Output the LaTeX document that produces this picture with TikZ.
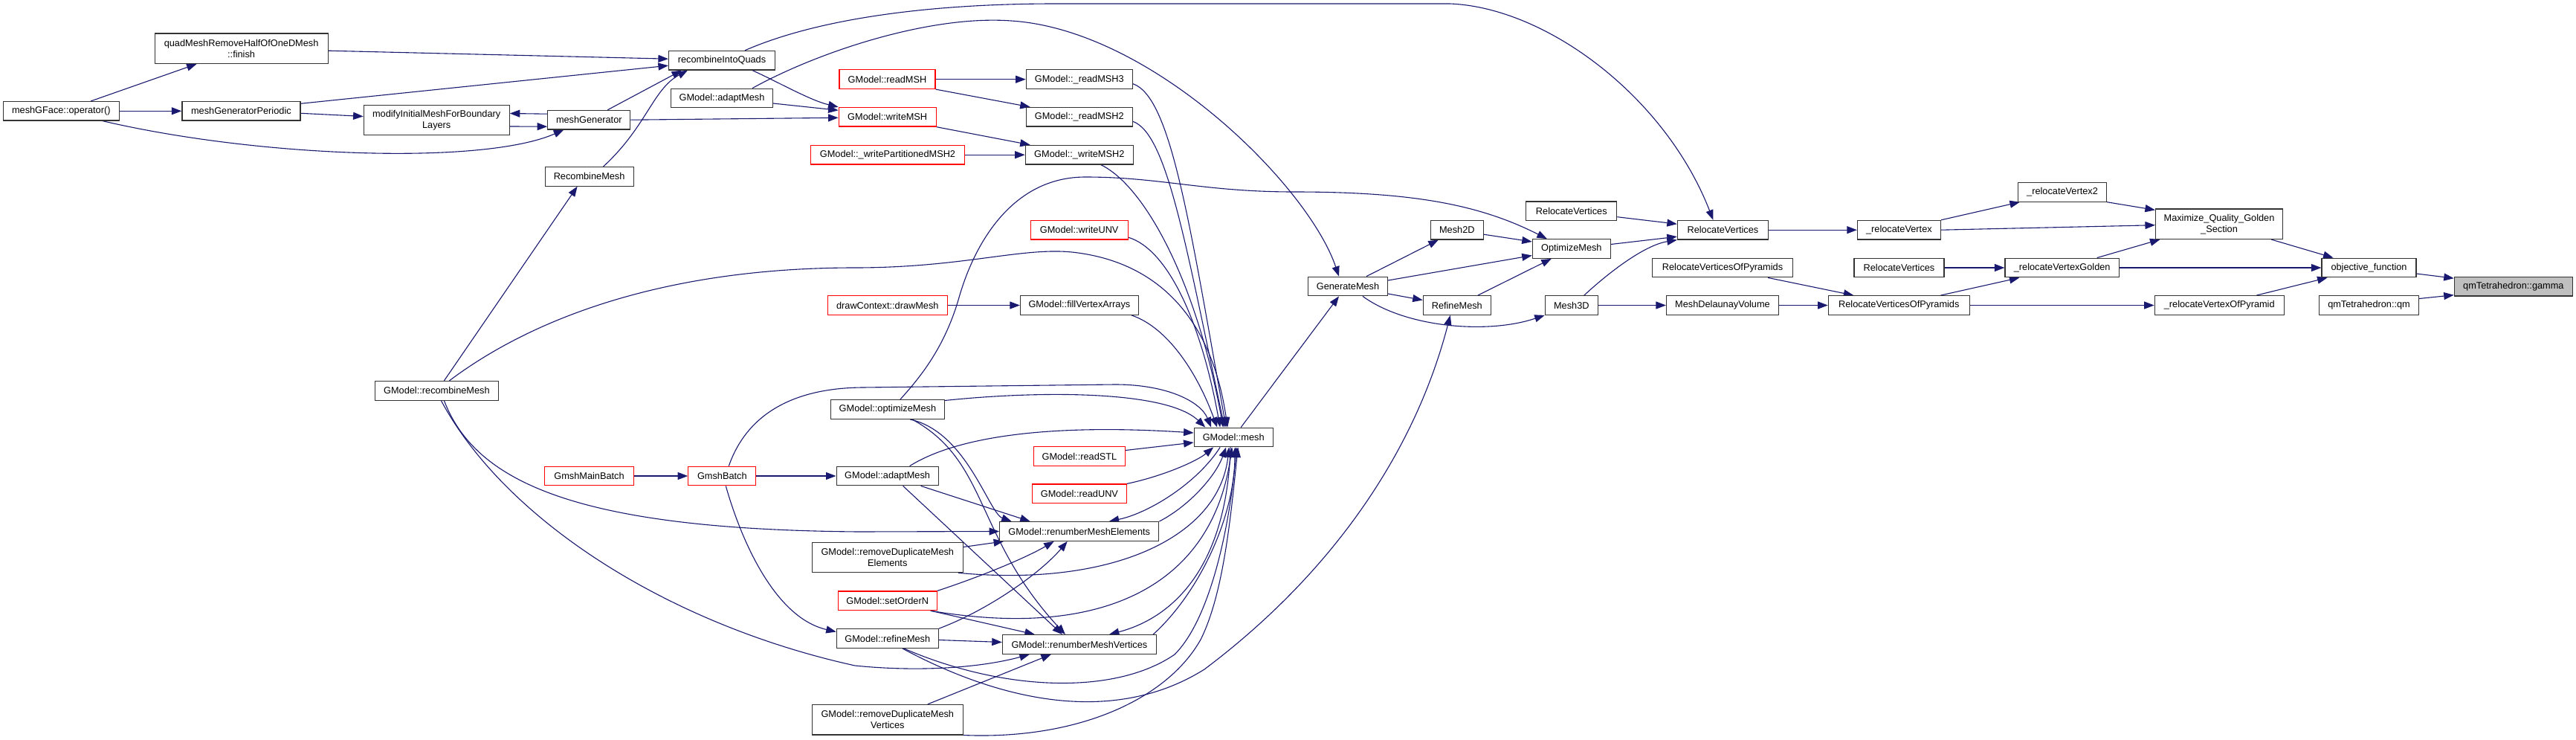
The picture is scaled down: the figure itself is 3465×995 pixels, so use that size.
\documentclass[tikz,border=0pt]{standalone}
\usepackage{fontspec}
\setmainfont{Liberation Sans}
\usetikzlibrary{arrows.meta}
\definecolor{edgeblue}{HTML}{191970}
\definecolor{nodegray}{HTML}{BFBFBF}
\definecolor{boxline}{HTML}{333333}
\pgfdeclarelayer{paper}
\pgfdeclarelayer{bg}
\pgfsetlayers{paper,bg,main}
\tikzset{
  fn/.style={draw=boxline, line width=1.2pt, fill=white, minimum height=25.6pt, inner sep=0pt,
    font=\fontsize{12.75pt}{15pt}\selectfont, align=center, text=black},
  fnred/.style={fn, draw=red},
  fntwo/.style={fn, minimum height=40.4pt},
  fnroot/.style={fn, fill=nodegray},
  e/.style={draw=edgeblue, line width=1.1pt, -{Triangle[length=13.5pt,width=10pt]}, fill=none},
}
\begin{document}
\begin{tikzpicture}[x=1pt, y=-1pt]
\begin{pgfonlayer}{paper}
\fill[white] (0,0) rectangle (3465,995);
\end{pgfonlayer}
\useasboundingbox (0,0) rectangle (3465,995);
% ---------- nodes ----------
\node[fn, minimum width=156pt] (mgf) at (82.3,149.3) {meshGFace::operator()};
\node[fntwo, minimum width=233pt] (qmr) at (324.6,65.2) {quadMeshRemoveHalfOfOneDMesh\\::finish};
\node[fn, minimum width=159pt] (mgp) at (324.4,149.3) {meshGeneratorPeriodic};
\node[fntwo, minimum width=196pt] (mim) at (587.2,161.5) {modifyInitialMeshForBoundary\\Layers};
\node[fn, minimum width=111pt] (mg) at (792.3,161.2) {meshGenerator};
\node[fn, minimum width=143pt] (riq) at (971,81.2) {recombineIntoQuads};
\node[fn, minimum width=137pt] (gam1) at (971,132) {GModel::adaptMesh};
\node[fn, minimum width=119pt] (rcm) at (792.6,237.3) {RecombineMesh};
\node[fnred, minimum width=129pt] (rmsh) at (1193.5,106.7) {GModel::readMSH};
\node[fnred, minimum width=131pt] (wmsh) at (1193.7,157.3) {GModel::writeMSH};
\node[fnred, minimum width=207pt] (wpm) at (1194,208.2) {GModel::\_writePartitionedMSH2};
\node[fn, minimum width=143pt] (rm3) at (1451.8,106.7) {GModel::\_readMSH3};
\node[fn, minimum width=143pt] (rm2) at (1451.8,157.3) {GModel::\_readMSH2};
\node[fn, minimum width=145pt] (wm2) at (1451.8,208.2) {GModel::\_writeMSH2};
\node[fnred, minimum width=131pt] (wunv) at (1451.7,309.2) {GModel::writeUNV};
\node[fnred, minimum width=161pt] (dcd) at (1193.8,410.5) {drawContext::drawMesh};
\node[fn, minimum width=159pt] (fva) at (1451.9,410.5) {GModel::fillVertexArrays};
\node[fn, minimum width=107pt] (gen) at (1813,385) {GenerateMesh};
\node[fn, minimum width=71pt] (m2d) at (1959.8,309.2) {Mesh2D};
\node[fn, minimum width=91pt] (ref) at (1959.8,410.5) {RefineMesh};
\node[fn, minimum width=105pt] (opt) at (2113.8,334.5) {OptimizeMesh};
\node[fn, minimum width=122pt] (rv1) at (2113.8,283.7) {RelocateVertices};
\node[fn, minimum width=71pt] (m3d) at (2113.8,410.5) {Mesh3D};
\node[fn, minimum width=122pt] (rv2) at (2317.4,309.2) {RelocateVertices};
\node[fn, minimum width=189pt] (rvp1) at (2317,360) {RelocateVerticesOfPyramids};
\node[fn, minimum width=151pt] (mdv) at (2317,410.5) {MeshDelaunayVolume};
\node[fn, minimum width=112pt] (rlv) at (2554.4,309.2) {\_relocateVertex};
\node[fn, minimum width=119pt] (rlv2) at (2774,258.3) {\_relocateVertex2};
\node[fn, minimum width=121pt] (rv3) at (2554.5,360) {RelocateVertices};
\node[fn, minimum width=153.5pt] (rvg) at (2773.7,360) {\_relocateVertexGolden};
\node[fn, minimum width=190pt] (rvp2) at (2554.3,410.5) {RelocateVerticesOfPyramids};
\node[fntwo, minimum width=171pt] (mqg) at (2985,301.2) {Maximize\_Quality\_Golden\\\_Section};
\node[fn, minimum width=127pt] (obj) at (3186.5,360) {objective\_function};
\node[fnroot, minimum width=159pt] (gam) at (3380.8,385.2) {qmTetrahedron::gamma};
\node[fn, minimum width=134pt] (qm) at (3186.5,410.5) {qmTetrahedron::qm};
\node[fn, minimum width=174pt] (rvop) at (2985.2,410.5) {\_relocateVertexOfPyramid};
\node[fn, minimum width=166pt] (grm) at (587.4,525.3) {GModel::recombineMesh};
\node[fnred, minimum width=120pt] (gmb) at (792.5,640) {GmshMainBatch};
\node[fnred, minimum width=91pt] (gb) at (971.3,640) {GmshBatch};
\node[fn, minimum width=153pt] (gom) at (1193.9,550.5) {GModel::optimizeMesh};
\node[fn, minimum width=137pt] (gam2) at (1193.6,640) {GModel::adaptMesh};
\node[fntwo, minimum width=203pt] (rdme) at (1193.8,749.5) {GModel::removeDuplicateMesh\\Elements};
\node[fnred, minimum width=133pt] (son) at (1193.7,807.8) {GModel::setOrderN};
\node[fn, minimum width=137pt] (grf) at (1193.8,858.5) {GModel::refineMesh};
\node[fntwo, minimum width=203pt] (rdmv) at (1193.8,967.7) {GModel::removeDuplicateMesh\\Vertices};
\node[fn, minimum width=106pt] (mesh) at (1659.2,588) {GModel::mesh};
\node[fnred, minimum width=123pt] (rstl) at (1451.9,613.5) {GModel::readSTL};
\node[fnred, minimum width=127pt] (runv) at (1451.9,663.8) {GModel::readUNV};
\node[fn, minimum width=214pt] (rme) at (1451.7,714.5) {GModel::renumberMeshElements};
\node[fn, minimum width=207pt] (rmv) at (1451.9,866.5) {GModel::renumberMeshVertices};
% ---------- edges ----------
\begin{pgfonlayer}{bg}
% left cluster
\draw[e] ([xshift=40pt]mgf.north) -- ([xshift=-60pt]qmr.south);
\draw[e] (mgf.east) -- (mgp.west);
\draw[e] ([xshift=56pt]mgf.south) .. controls (350,212) and (650,222) .. ([xshift=-34pt]mg.south);
\draw[e] ([yshift=-3pt]qmr.east) -- ([yshift=2pt]riq.west);
\draw[e] ([yshift=10pt]mgp.east) -- ([yshift=-7pt]riq.west);
\draw[e] ([yshift=-3pt]mgp.east) -- ([yshift=5pt]mim.west);
\draw[e] ([yshift=8pt]mg.west) -- ([yshift=9pt]mim.east);
\draw[e] ([yshift=-8.5pt]mim.east) -- ([yshift=-9pt]mg.west);
\draw[e] ([xshift=25pt]mg.north) -- ([xshift=-54pt]riq.south);
\draw[e] ([xshift=19pt]rcm.north) .. controls (870,170) and (878,120) .. ([xshift=-46pt]riq.south);
\draw[e] ([xshift=41pt]riq.south) .. controls (1050,112) and (1090,135) .. (wmsh.north west);
\draw[e] ([yshift=-7pt]gam1.east) -- ([yshift=9pt]wmsh.west);
\draw[e] (mg.east) -- ([yshift=-1pt]wmsh.west);
\draw[e] ([xshift=41pt]gam1.north) .. controls (1100,70) and (1250,20) .. (1360,28)
   .. controls (1550,40) and (1760,250) .. ([xshift=-12pt]gen.north);
\draw[e] ([xshift=31pt]riq.north) .. controls (1100,25) and (1250,5) .. (1420,5) -- (1950,5)
   .. controls (2080,10) and (2240,130) .. ([xshift=-13pt]rv2.north);
% read/write cluster
\draw[e] (rmsh.east) -- (rm3.west);
\draw[e] (rmsh.south east) -- ([xshift=6pt]rm2.north west);
\draw[e] (wmsh.south east) -- ([xshift=7pt]wm2.north west);
\draw[e] (wpm.east) -- (wm2.west);
\draw[e] (dcd.east) -- (fva.west);
% into GModel::mesh from above
\draw[e] ([yshift=-6pt]rm3.east) .. controls (1575,130) and (1600,300) .. ([xshift=-10pt]mesh.north);
\draw[e] ([yshift=-6pt]rm2.east) .. controls (1570,180) and (1595,330) .. ([xshift=-12pt]mesh.north);
\draw[e] ([xshift=29pt]wm2.south) .. controls (1540,250) and (1610,380) .. ([xshift=-14pt]mesh.north);
\draw[e] ([yshift=-10pt]wunv.east) .. controls (1570,335) and (1615,430) .. ([xshift=-18pt]mesh.north);
\draw[e] ([xshift=-10pt]fva.south east) .. controls (1570,440) and (1610,500) .. ([xshift=-22pt]mesh.north);
\draw[e] ([xshift=17pt]grm.north) .. controls (720,425) and (900,360) .. (1150,360)
   .. controls (1300,360) and (1380,330) .. (1450,340)
   .. controls (1560,355) and (1630,430) .. ([xshift=-8pt]mesh.north);
\draw[e] ([xshift=10pt]grm.north) -- ([xshift=-16pt]rcm.south);
\draw[e] (gmb.east) -- (gb.west);
\draw[e] (gb.east) -- (gam2.west);
\draw[e] ([xshift=5pt]gb.south) .. controls (995,720) and (1040,830) .. ([yshift=9pt]grf.west);
\draw[e] ([xshift=9pt]gb.north) .. controls (1000,570) and (1050,522) .. (1160,521) -- (1500,517)
   .. controls (1570,517) and (1615,540) .. ([xshift=-30pt]mesh.north);
\draw[e] ([yshift=12pt]gom.east) .. controls (1400,525) and (1570,525) .. ([xshift=-38pt]mesh.north);
\draw[e] ([xshift=30pt]gam2.north) .. controls (1290,585) and (1420,570) .. ([yshift=6pt]mesh.west);
\draw[e] ([yshift=8pt]rstl.east) -- ([yshift=-7pt]mesh.west);
\draw[e] (runv.north east) .. controls (1565,640) and (1610,620) .. ([xshift=-27pt]mesh.south);
% renumber cycles
\draw[e] ([xshift=-18pt]mesh.south) .. controls (1610,650) and (1545,690) .. ([xshift=40pt]rme.north);
\draw[e] (rme.north east) .. controls (1600,680) and (1635,640) .. ([xshift=-10pt]mesh.south);
\draw[e] ([xshift=-4pt]mesh.south) .. controls (1650,760) and (1580,830) .. ([xshift=40pt]rmv.north);
\draw[e] ([xshift=-5pt]rmv.north east) .. controls (1610,800) and (1660,700) .. ([xshift=2pt]mesh.south);
% callers of renumber
\draw[e] ([xshift=30pt]gom.south) .. controls (1300,580) and (1330,690) .. ([xshift=-91pt]rme.north);
\draw[e] ([xshift=33pt]gom.south) .. controls (1330,620) and (1310,720) .. ([xshift=-19pt]rmv.north);
\draw[e] ([xshift=45pt]gam2.south) -- ([xshift=-66pt]rme.north);
\draw[e] ([xshift=21pt]gam2.south) -- ([xshift=-23pt]rmv.north);
\draw[e] ([xshift=10pt]grm.south) .. controls (640,650) and (780,712) .. (1155,715) -- (rme.west);
\draw[e] ([xshift=6pt]grm.south) .. controls (680,700) and (900,840) .. (1150,895)
   .. controls (1250,905) and (1330,895) .. ([xshift=-67pt]rmv.south);
\draw[e] ([yshift=14pt]rdme.east) -- ([xshift=6pt]rme.south west);
\draw[e] ([xshift=-7pt]rdme.south east) .. controls (1500,790) and (1640,720) .. ([xshift=-6pt]mesh.south);
\draw[e] (son.north east) .. controls (1320,775) and (1380,750) .. ([xshift=-34pt]rme.south);
\draw[e] ([xshift=-9pt]son.south east) .. controls (1480,860) and (1630,790) .. ([xshift=-2pt]mesh.south);
\draw[e] ([xshift=-9pt]son.south east) -- ([xshift=-60pt]rmv.north);
\draw[e] (grf.north east) .. controls (1330,820) and (1400,770) .. ([xshift=-16pt]rme.south);
\draw[e] ([yshift=-2pt]grf.east) -- ([yshift=3pt]rmv.west);
\draw[e] ([xshift=22pt]grf.south) .. controls (1350,930) and (1500,935) .. (1580,880)
   .. controls (1630,830) and (1655,700) .. ([xshift=4pt]mesh.south);
\draw[e] ([xshift=20pt]grf.south) .. controls (1350,945) and (1500,975) .. (1620,900)
   .. controls (1780,780) and (1900,620) .. ([xshift=-9pt]ref.south);
\draw[e] ([xshift=54pt]rdmv.north) -- ([xshift=-38pt]rmv.south);
\draw[e] (rdmv.south east) .. controls (1450,995) and (1570,940) .. (1615,860)
   .. controls (1645,800) and (1655,700) .. ([xshift=6pt]mesh.south);
\draw[e] ([xshift=10pt]mesh.north) -- ([xshift=-12pt]gen.south);
\draw[e] ([xshift=17pt]gom.north) .. controls (1235,510) and (1270,470) .. (1290,400)
   .. controls (1310,330) and (1360,238) .. (1460,238)
   .. controls (1560,238) and (1620,258) .. (1740,258)
   .. controls (1900,258) and (1990,275) .. ([xshift=-33pt]opt.north);
% right cluster
\draw[e] ([xshift=25pt]gen.north) -- ([xshift=-25pt]m2d.south);
\draw[e] ([yshift=8pt]gen.east) -- ([yshift=-9pt]opt.west);
\draw[e] ([yshift=-10pt]gen.east) -- ([yshift=7pt]ref.west);
\draw[e] ([xshift=20pt]gen.south) .. controls (1890,440) and (2000,450) .. (m3d.south west);
\draw[e] ([yshift=-6pt]m2d.east) -- ([yshift=9.5pt]opt.west);
\draw[e] ([xshift=28pt]ref.north) -- ([xshift=-27pt]opt.south);
\draw[e] ([yshift=-8pt]rv1.east) -- ([yshift=8pt]rv2.west);
\draw[e] ([yshift=6pt]opt.east) -- ([yshift=-9pt]rv2.west);
\draw[e] ([xshift=17pt]m3d.north) .. controls (2160,370) and (2210,330) .. (rv2.south west);
\draw[e] (m3d.east) -- (mdv.west);
\draw[e] ([xshift=61pt]rvp1.south) -- ([xshift=-61pt]rvp2.north);
\draw[e] (mdv.east) -- (rvp2.west);
\draw[e] (rv2.east) -- (rlv.west);
\draw[e] (rlv.north east) -- ([xshift=3pt]rlv2.south west);
\draw[e] (rlv.east) -- ([yshift=-1.5pt]mqg.west);
\draw[e] (rv3.east) -- (rvg.west);
\draw[e] ([xshift=56pt]rvp2.north) -- ([xshift=20pt]rvg.south west);
\draw[e] (rvp2.east) -- (rvop.west);
\draw[e] (rlv2.south east) -- ([yshift=-2pt]mqg.north west);
\draw[e] ([xshift=47pt]rvg.north) -- ([xshift=6.6pt]mqg.south west);
\draw[e] (rvg.east) -- (obj.west);
\draw[e] ([xshift=70pt]mqg.south) -- ([xshift=-48pt]obj.north);
\draw[e] ([xshift=50pt]rvop.north) -- ([xshift=-56pt]obj.south);
\draw[e] ([yshift=-8pt]obj.east) -- ([yshift=11pt]gam.west);
\draw[e] ([yshift=9pt]qm.east) -- ([yshift=-11.5pt]gam.west);
\end{pgfonlayer}
\end{tikzpicture}
\end{document}
